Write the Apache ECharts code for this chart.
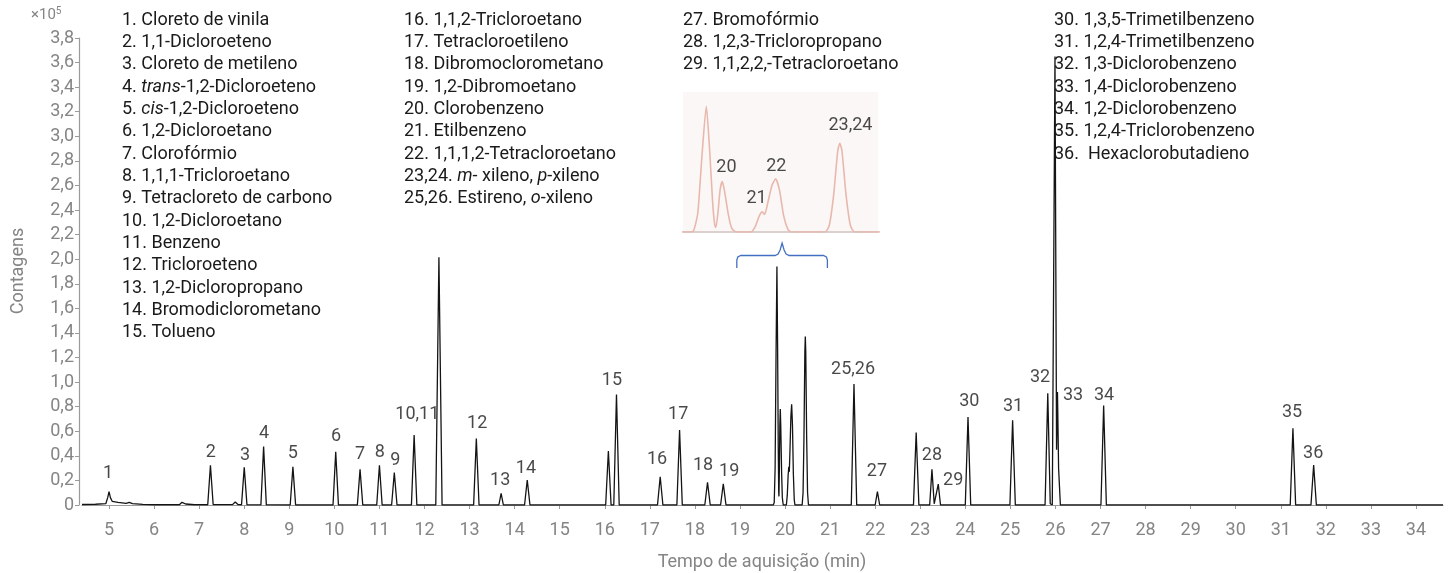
<!DOCTYPE html>
<html><head><meta charset="utf-8">
<script src="https://cdn.jsdelivr.net/npm/echarts@6/dist/echarts.min.js"></script>
<style>html,body{margin:0;padding:0;background:#fff}#c{width:1450px;height:573px}</style>
</head><body><div id="c"></div>
<script>
// ---- DATA (time in min, counts in ×10^5) ----
const trace = [
[4.40,0.004],[4.70,0.006],[4.93,0.012],[4.97,0.06],[5.00,0.108],[5.03,0.06],[5.07,0.03],[5.20,0.022],[5.38,0.014],[5.45,0.022],[5.52,0.012],[5.75,0.005],[6.00,0.002],[6.56,0.002],[6.62,0.022],[6.70,0.008],[6.90,0.002],
[7.19,0.002],[7.25,0.323],[7.31,0.004],[7.45,0.003],[7.74,0.003],[7.80,0.025],[7.86,0.004],
[7.94,0.002],[8.00,0.307],[8.06,0.002],
[8.37,0.001],[8.43,0.475],[8.49,0.001],
[9.02,0],[9.08,0.31],[9.14,0],
[9.97,0],[10.03,0.434],[10.09,0],
[10.51,0],[10.57,0.29],[10.63,0],
[10.94,0],[11.00,0.323],[11.06,0],
[11.27,0],[11.33,0.263],[11.39,0],
[11.71,0],[11.77,0.57],[11.83,0],
[12.25,0],[12.32,2.015],[12.39,0],
[13.09,0],[13.15,0.54],[13.21,0],
[13.65,0],[13.70,0.095],[13.75,0],
[14.22,0],[14.28,0.203],[14.34,0],
[16.02,0],[16.08,0.44],[16.14,0],
[16.20,0],[16.26,0.90],[16.32,0],
[17.17,0],[17.23,0.23],[17.29,0],
[17.60,0],[17.66,0.61],[17.72,0],
[18.22,0],[18.28,0.185],[18.34,0],
[18.57,0],[18.63,0.173],[18.69,0],
[19.74,0],[19.76,0.02],[19.78,0.3],[19.80,1.2],[19.82,1.94],[19.835,1.3],[19.85,0.45],[19.86,0.1],[19.865,0.07],[19.875,0.3],[19.885,0.65],[19.895,0.78],[19.905,0.65],[19.925,0.25],[19.94,0.06],[19.96,0],
[20.03,0],[20.05,0.08],[20.07,0.25],[20.084,0.31],[20.095,0.27],[20.11,0.45],[20.13,0.72],[20.147,0.82],[20.165,0.65],[20.185,0.25],[20.205,0.04],[20.22,0],
[20.38,0],[20.40,0.1],[20.42,0.55],[20.44,1.25],[20.45,1.37],[20.46,1.25],[20.48,0.55],[20.50,0.1],[20.52,0],
[21.47,0],[21.53,0.985],[21.59,0],
[22.00,0],[22.05,0.108],[22.10,0],
[22.85,0],[22.91,0.59],[22.97,0],
[23.21,0],[23.26,0.29],[23.31,0.01],[23.35,0.005],[23.40,0.17],[23.45,0],
[24.00,0],[24.06,0.715],[24.12,0],
[24.99,0],[25.05,0.69],[25.11,0],
[25.77,0],[25.83,0.91],[25.885,0.01],[25.93,0],[25.99,3.65],[26.025,0.45],[26.045,0.92],[26.052,0.76],[26.07,0.3],[26.11,0],
[27.01,0],[27.07,0.81],[27.13,0],
[31.21,0],[31.27,0.625],[31.33,0],
[31.67,0],[31.73,0.325],[31.79,0],
[34.60,0]
];
const xTicks = [5,6,7,8,9,10,11,12,13,14,15,16,17,18,19,20,21,22,23,24,25,26,27,28,29,30,31,32,33,34];
const peakLabels = [
['1',4.98,0.26],['2',7.26,0.43],['3',8.02,0.40],['4',8.44,0.578],['5',9.08,0.42],['6',10.04,0.56],
['7',10.57,0.41],['8',11.01,0.425],['9',11.35,0.36],['10,11',11.84,0.74],['12',13.17,0.66],['13',13.68,0.20],
['14',14.25,0.30],['15',16.16,1.01],['16',17.16,0.374],['17',17.63,0.74],['18',18.18,0.32],['19',18.76,0.27],
['25,26',21.51,1.10],['27',22.04,0.27],['28',23.26,0.40],['29',23.73,0.20],['30',24.09,0.846],['31',25.06,0.80],
['32',25.66,1.04],['33',26.39,0.887],['34',27.08,0.895],['35',31.25,0.75],['36',31.72,0.42]
];
const insetLabels = [['20',19.915,1.0],['21',20.057,0.52],['22',20.15,1.01],['23,24',20.50,1.65]];
const bracketRange = [18.93, 20.94];
const legendCol1 = ['1. Cloreto de vinila','2. 1,1-Dicloroeteno','3. Cloreto de metileno','4. {i|trans}-1,2-Dicloroeteno','5. {i|cis}-1,2-Dicloroeteno','6. 1,2-Dicloroetano','7. Clorofórmio','8. 1,1,1-Tricloroetano','9. Tetracloreto de carbono','10. 1,2-Dicloroetano','11. Benzeno','12. Tricloroeteno','13. 1,2-Dicloropropano','14. Bromodiclorometano','15. Tolueno'];
const legendCol2 = ['16. 1,1,2-Tricloroetano','17. Tetracloroetileno','18. Dibromoclorometano','19. 1,2-Dibromoetano','20. Clorobenzeno','21. Etilbenzeno','22. 1,1,1,2-Tetracloroetano','23,24. {i|m}- xileno, {i|p}-xileno','25,26. Estireno, {i|o}-xileno'];
const legendCol3 = ['27. Bromofórmio','28. 1,2,3-Tricloropropano','29. 1,1,2,2,-Tetracloroetano'];
const legendCol4 = ['30. 1,3,5-Trimetilbenzeno','31. 1,2,4-Trimetilbenzeno','32. 1,3-Diclorobenzeno','33. 1,4-Diclorobenzeno','34. 1,2-Diclorobenzeno','35. 1,2,4-Triclorobenzeno','36.  Hexaclorobutadieno'];

// ---- CHART ----
const FONT = 'Roboto, "Noto Sans", sans-serif';
const GRAY = '#858585';
const INK = '#1a1a1a';
const chart = echarts.init(document.getElementById('c'), null, {renderer:'canvas'});

function legendTexts(col, x) {
  return col.map((t, i) => ({
    type: 'text', x: x, y: 20 + i * 22.35, silent: true,
    style: {
      text: t, fill: INK, font: '18px ' + FONT, textVerticalAlign: 'middle', textAlign: 'left',
      rich: { i: { fontStyle: 'italic', fontSize: 18, fontFamily: FONT, fill: INK } }
    }
  }));
}

const option = {
  animation: false,
  backgroundColor: '#fff',
  grid: [
    {left: 82, right: 7, top: 38, bottom: 68},
    {left: 683, top: 92, width: 195, height: 140, show: true, backgroundColor: '#faf7f6', borderWidth: 0}
  ],
  xAxis: [
    {type: 'value', gridIndex: 0, min: 4.4, max: 34.6, offset: 9,
     axisLine: {show: true, lineStyle: {color: '#9a9a9a', width: 1.2}},
     axisTick: {show: true, length: 4, lineStyle: {color: '#9a9a9a'}, customValues: xTicks},
     axisLabel: {color: GRAY, fontSize: 18, fontFamily: FONT, margin: 7, customValues: xTicks},
     splitLine: {show: false}},
    {type: 'value', gridIndex: 1, min: 19.71, max: 20.63, show: true,
     axisLine: {show: true, lineStyle: {color: '#cfc3c1', width: 1.5}},
     axisTick: {show: false}, axisLabel: {show: false}, splitLine: {show: false}}
  ],
  yAxis: [
    {type: 'value', gridIndex: 0, min: 0, max: 3.8, interval: 0.2, offset: 3,
     axisLine: {show: true, lineStyle: {color: '#9a9a9a', width: 1.2}},
     axisTick: {show: true, length: 4, lineStyle: {color: '#9a9a9a'}},
     axisLabel: {color: GRAY, fontSize: 18, fontFamily: FONT, margin: 5,
       formatter: v => v === 0 ? '0' : v.toFixed(1).replace('.', ',')},
     splitLine: {show: false}},
    {type: 'value', gridIndex: 1, min: 0, max: 2.16, show: false, splitLine: {show: false}}
  ],
  series: [
    {type: 'line', xAxisIndex: 0, yAxisIndex: 0, data: trace, showSymbol: false, symbol: 'none',
     lineStyle: {color: '#141414', width: 1.3}, z: 3},
    {type: 'line', xAxisIndex: 1, yAxisIndex: 1, data: trace, showSymbol: false, symbol: 'none',
     smooth: 0.2, lineStyle: {color: '#e8b8ad', width: 1.6}, z: 3},
    {type: 'scatter', xAxisIndex: 0, yAxisIndex: 0, symbolSize: 0,
     data: peakLabels.map(p => ({value: [p[1], p[2]], name: p[0]})),
     label: {show: true, position: 'inside', formatter: p => p.name, color: INK, fontSize: 18, fontFamily: FONT}, z: 5},
    {type: 'scatter', xAxisIndex: 1, yAxisIndex: 1, symbolSize: 0,
     data: insetLabels.map(p => ({value: [p[1], p[2]], name: p[0]})),
     label: {show: true, position: 'inside', formatter: p => p.name, color: INK, fontSize: 18, fontFamily: FONT}, z: 5}
  ]
};
chart.setOption(option);

// bracket under the inset, spanning the zoomed time range on the main axis
const bx0 = chart.convertToPixel({xAxisIndex: 0}, bracketRange[0]);
const bx1 = chart.convertToPixel({xAxisIndex: 0}, bracketRange[1]);
const bm = (bx0 + bx1) / 2;

chart.setOption({graphic: [
  {type: 'text', x: 31, y: 15, silent: true,
   style: {text: '×10{s|5}', fill: GRAY, font: '15px ' + FONT, textVerticalAlign: 'middle',
     rich: {s: {fontSize: 10, fontFamily: FONT, fill: GRAY, verticalAlign: 'top', padding: [0,0,8,0]}}}},
  {type: 'text', x: 18, y: 271, rotation: Math.PI / 2, silent: true,
   style: {text: 'Contagens', fill: GRAY, font: '18px ' + FONT, textAlign: 'center', textVerticalAlign: 'middle'}},
  {type: 'text', x: 762, y: 562, silent: true,
   style: {text: 'Tempo de aquisição (min)', fill: GRAY, font: '18px ' + FONT, textAlign: 'center', textVerticalAlign: 'middle'}},
  ...legendTexts(legendCol1, 122),
  ...legendTexts(legendCol2, 404),
  ...legendTexts(legendCol3, 683),
  ...legendTexts(legendCol4, 1054),
  {type: 'polyline', silent: true, z: 10,
   shape: {points: [[bx0,268],[bx0,260],[bx0+1,257],[bx0+4,255.5],[bm-7,255.5],[bm-4,254],[bm-2,250],[bm,243],[bm+2,250],[bm+4,254],[bm+7,255.5],[bx1-4,255.5],[bx1-1,257],[bx1,260],[bx1,268]]},
   style: {stroke: '#4470c4', lineWidth: 1.3, fill: null}}
]});
</script>
</body></html>
